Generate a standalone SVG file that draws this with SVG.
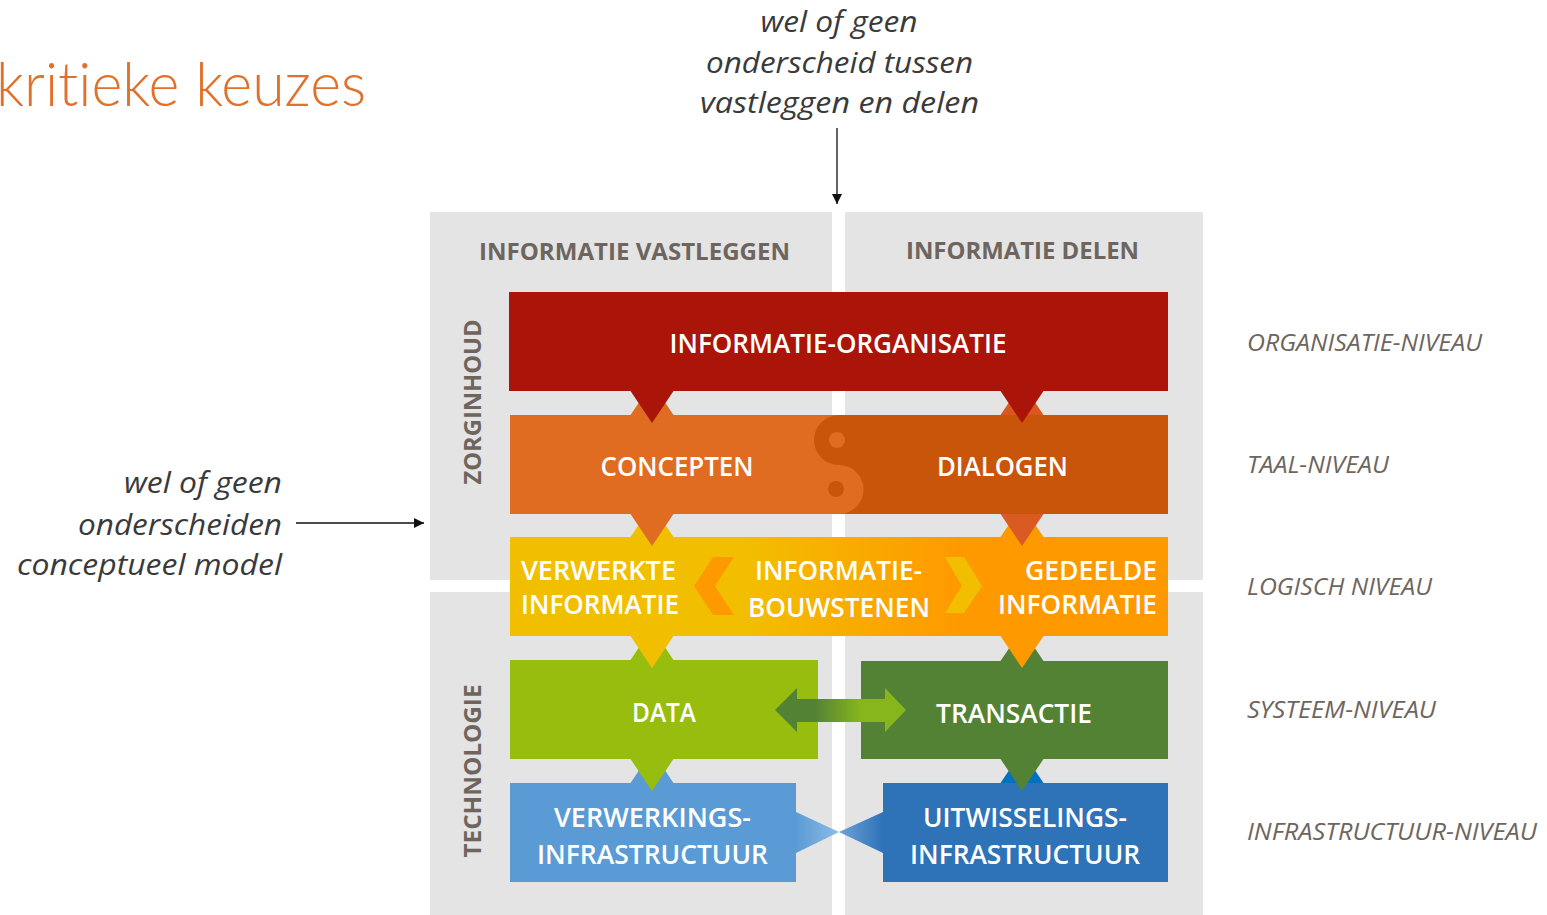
<svg xmlns="http://www.w3.org/2000/svg" width="1547" height="915" viewBox="0 0 1547 915">
<style>
.panel{fill:#E4E4E4}
.lbl{font-family:"Open Sans","Liberation Sans",sans-serif;font-weight:600;fill:#FFFFFF;font-size:27px}
.hdr{font-family:"Open Sans","Liberation Sans",sans-serif;font-weight:700;fill:#6E655E;font-size:24px}
.lvl{font-family:"Open Sans","Liberation Sans",sans-serif;font-style:italic;font-weight:400;fill:#6E655E;font-size:24px}
.note{font-family:"Open Sans","Liberation Sans",sans-serif;font-style:italic;font-weight:400;fill:#3A3A3A;font-size:29px}
.title{font-family:Lato,"Open Sans","Liberation Sans",sans-serif;font-weight:300;fill:#E0702A;font-size:62px;font-variant-ligatures:none}
.conn{stroke:#111;stroke-width:1.3;fill:none}
</style>
<defs>
<marker id="ah" viewBox="0 0 10 10" refX="10" refY="5" markerWidth="10" markerHeight="10" markerUnits="userSpaceOnUse" orient="auto">
<path d="M0,0 L10,5 L0,10 Z" fill="#111"/>
</marker>
<linearGradient id="gy" gradientUnits="userSpaceOnUse" x1="740" y1="0" x2="960" y2="0">
<stop offset="0" stop-color="#F2BF00"/><stop offset="1" stop-color="#FF9900"/>
</linearGradient>
<linearGradient id="gg" gradientUnits="userSpaceOnUse" x1="815" y1="0" x2="860" y2="0">
<stop offset="0" stop-color="#548235"/><stop offset="1" stop-color="#86B51C"/>
</linearGradient>
<linearGradient id="gbl" gradientUnits="userSpaceOnUse" x1="796" y1="0" x2="839" y2="0">
<stop offset="0" stop-color="#5B9BD5"/><stop offset="1" stop-color="#8DBBE6"/>
</linearGradient>
<linearGradient id="gbr" gradientUnits="userSpaceOnUse" x1="883" y1="0" x2="839" y2="0">
<stop offset="0" stop-color="#2E72B8"/><stop offset="1" stop-color="#6FA2D6"/>
</linearGradient>
</defs>
<rect width="1547" height="915" fill="#FFFFFF"/>

<g id="title"><text class="title" x="-4" y="106" textLength="370" lengthAdjust="spacingAndGlyphs">kritieke keuzes</text></g>

<g id="panels">
<rect class="panel" x="430" y="212" width="402" height="368"/>
<rect class="panel" x="845" y="212" width="358" height="368"/>
<rect class="panel" x="430" y="592" width="402" height="323"/>
<rect class="panel" x="845" y="592" width="358" height="323"/>
</g>

<g id="headers">
<text class="hdr" x="634.5" y="260" text-anchor="middle" textLength="311" lengthAdjust="spacingAndGlyphs">INFORMATIE VASTLEGGEN</text>
<text class="hdr" x="1022.5" y="259" text-anchor="middle" textLength="233" lengthAdjust="spacingAndGlyphs">INFORMATIE DELEN</text>
<text class="hdr" transform="translate(481,402) rotate(-90)" text-anchor="middle" textLength="165" lengthAdjust="spacingAndGlyphs">ZORGINHOUD</text>
<text class="hdr" transform="translate(481,771) rotate(-90)" text-anchor="middle" textLength="173" lengthAdjust="spacingAndGlyphs">TECHNOLOGIE</text>
</g>

<g id="tabs">
<path d="M630.5,415 L652,383 L673.5,415 Z" fill="#E06C22"/>
<path d="M1000.5,415 L1022,383 L1043.5,415 Z" fill="#D9581F"/>
<path d="M630.5,537 L652,505 L673.5,537 Z" fill="#F2BF00"/>
<path d="M1000.5,537 L1022,505 L1043.5,537 Z" fill="#FF9900"/>
<path d="M630.5,660 L652,628 L673.5,660 Z" fill="#97BD0F"/>
<path d="M1000.5,661 L1022,629 L1043.5,661 Z" fill="#548235"/>
<path d="M630.5,783 L652,751 L673.5,783 Z" fill="#5B9BD5"/>
<path d="M1000.5,783 L1022,751 L1043.5,783 Z" fill="#0070C0"/>
</g>

<g id="informatie-organisatie">
<rect x="509" y="292" width="659" height="99" fill="#AA1409"/>
<text class="lbl" x="838" y="353" text-anchor="middle" textLength="337" lengthAdjust="spacingAndGlyphs">INFORMATIE-ORGANISATIE</text>
</g>

<g id="concepten">
<rect x="510" y="415" width="658" height="99" fill="#E06C22"/>
<circle cx="836" cy="489" r="8" fill="#C9550A"/>
<text class="lbl" x="677" y="476" text-anchor="middle" textLength="153" lengthAdjust="spacingAndGlyphs">CONCEPTEN</text>
</g>

<g id="dialogen">
<path d="M839,415 A25,25 0 0 0 839,465 A24.5,24.5 0 0 1 839,514 L1168,514 L1168,415 Z" fill="#C9550A"/>
<circle cx="837" cy="440" r="8" fill="#E06C22"/>
<text class="lbl" x="1002.5" y="476" text-anchor="middle" textLength="131" lengthAdjust="spacingAndGlyphs">DIALOGEN</text>
</g>

<g id="logisch">
<rect x="510" y="537" width="658" height="99" fill="url(#gy)"/>
<path d="M734,557 L713,557 L694,586 L713,615 L734,615 L715,586 Z" fill="#FF9900"/>
<path d="M945,557 L964,557 L982,586 L964,613 L945,613 L962,586 Z" fill="#F2BF00"/>
</g>
<g id="verwerkte-informatie">
<text class="lbl" x="521" y="580" textLength="155" lengthAdjust="spacingAndGlyphs">VERWERKTE</text>
<text class="lbl" x="521" y="614" textLength="158" lengthAdjust="spacingAndGlyphs">INFORMATIE</text>
</g>
<g id="informatie-bouwstenen">
<text class="lbl" x="838.5" y="580" text-anchor="middle" textLength="167" lengthAdjust="spacingAndGlyphs">INFORMATIE-</text>
<text class="lbl" x="839" y="617" text-anchor="middle" textLength="182" lengthAdjust="spacingAndGlyphs">BOUWSTENEN</text>
</g>
<g id="gedeelde-informatie">
<text class="lbl" x="1157" y="580" text-anchor="end" textLength="132" lengthAdjust="spacingAndGlyphs">GEDEELDE</text>
<text class="lbl" x="1157" y="614" text-anchor="end" textLength="159" lengthAdjust="spacingAndGlyphs">INFORMATIE</text>
</g>

<g id="data">
<rect x="510" y="660" width="308" height="99" fill="#97BD0F"/>
<text class="lbl" x="664" y="722" text-anchor="middle" textLength="64" lengthAdjust="spacingAndGlyphs">DATA</text>
</g>
<g id="transactie">
<rect x="861" y="661" width="307" height="98" fill="#548235"/>
<text class="lbl" x="1014" y="723" text-anchor="middle" textLength="156" lengthAdjust="spacingAndGlyphs">TRANSACTIE</text>
</g>

<g id="verwerkings-infrastructuur">
<rect x="510" y="783" width="286" height="99" fill="#5B9BD5"/>
<path d="M796,812 L839,832 L796,853 Z" fill="url(#gbl)"/>
<text class="lbl" x="652.5" y="827" text-anchor="middle" textLength="197" lengthAdjust="spacingAndGlyphs">VERWERKINGS-</text>
<text class="lbl" x="652.5" y="864" text-anchor="middle" textLength="231" lengthAdjust="spacingAndGlyphs">INFRASTRUCTUUR</text>
</g>
<g id="uitwisselings-infrastructuur">
<rect x="883" y="783" width="285" height="99" fill="#2E72B8"/>
<path d="M883,812 L839,832 L883,853 Z" fill="url(#gbr)"/>
<text class="lbl" x="1025" y="827" text-anchor="middle" textLength="204" lengthAdjust="spacingAndGlyphs">UITWISSELINGS-</text>
<text class="lbl" x="1025" y="864" text-anchor="middle" textLength="230" lengthAdjust="spacingAndGlyphs">INFRASTRUCTUUR</text>
</g>

<g id="pointers">
<path d="M630.5,391 L673.5,391 L652,423 Z" fill="#AA1409"/>
<path d="M1000.5,391 L1043.5,391 L1022,423 Z" fill="#AA1409"/>
<path d="M630.5,514 L673.5,514 L652,546 Z" fill="#E06C22"/>
<path d="M1000.5,514 L1043.5,514 L1022,546 Z" fill="#D95A22"/>
<path d="M630.5,636 L673.5,636 L652,668 Z" fill="#F2BF00"/>
<path d="M1000.5,636 L1043.5,636 L1022,668 Z" fill="#FF9900"/>
<path d="M630.5,759 L673.5,759 L652,791 Z" fill="#97BD0F"/>
<path d="M1000.5,759 L1043.5,759 L1022,791 Z" fill="#548235"/>
</g>

<g id="data-transactie-arrow">
<path d="M775,710 L797,688 L797,699 L885,699 L885,688 L906,710 L885,732 L885,722 L797,722 L797,732 Z" fill="url(#gg)"/>
</g>

<g id="levels">
<text class="lvl" x="1247" y="351" textLength="235" lengthAdjust="spacingAndGlyphs">ORGANISATIE-NIVEAU</text>
<text class="lvl" x="1247" y="473" textLength="142" lengthAdjust="spacingAndGlyphs">TAAL-NIVEAU</text>
<text class="lvl" x="1247" y="595" textLength="185" lengthAdjust="spacingAndGlyphs">LOGISCH NIVEAU</text>
<text class="lvl" x="1247" y="718" textLength="189" lengthAdjust="spacingAndGlyphs">SYSTEEM-NIVEAU</text>
<text class="lvl" x="1247" y="840" textLength="290" lengthAdjust="spacingAndGlyphs">INFRASTRUCTUUR-NIVEAU</text>
</g>

<g id="note-top">
<text class="note" x="839" y="32" text-anchor="middle" textLength="157" lengthAdjust="spacingAndGlyphs">wel of geen</text>
<text class="note" x="839.5" y="73" text-anchor="middle" textLength="267" lengthAdjust="spacingAndGlyphs">onderscheid tussen</text>
<text class="note" x="839.5" y="113" text-anchor="middle" textLength="279" lengthAdjust="spacingAndGlyphs">vastleggen en delen</text>
</g>
<g id="note-left">
<text class="note" x="282" y="493" text-anchor="end" textLength="158" lengthAdjust="spacingAndGlyphs">wel of geen</text>
<text class="note" x="282" y="535" text-anchor="end" textLength="204" lengthAdjust="spacingAndGlyphs">onderscheiden</text>
<text class="note" x="282" y="575" text-anchor="end" textLength="265" lengthAdjust="spacingAndGlyphs">conceptueel model</text>
</g>

<g id="connectors">
<line class="conn" x1="837" y1="128" x2="837" y2="204" marker-end="url(#ah)"/>
<line class="conn" x1="296" y1="523" x2="424" y2="523" marker-end="url(#ah)"/>
</g>
</svg>
